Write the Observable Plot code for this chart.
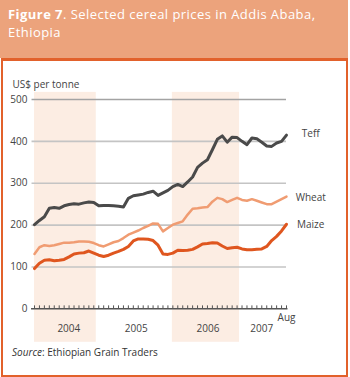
<!DOCTYPE html>
<html><head><meta charset="utf-8">
<script src="https://cdn.jsdelivr.net/npm/d3@7"></script>
<script src="https://cdn.jsdelivr.net/npm/@observablehq/plot@0.6"></script>
<style>
body{margin:0;width:350px;height:377px;position:relative;overflow:hidden;background:#fff;font-family:"Open Sans",sans-serif;}
#hdr{position:absolute;left:0;top:0;width:348px;height:58px;background:#eca37c;color:#fff;font-size:13px;line-height:18px;letter-spacing:0.45px;box-sizing:border-box;padding:5px 8px;}
#hdr b{font-weight:700;}
#panel{position:absolute;left:1px;top:58px;width:347px;height:319px;box-sizing:border-box;border:2px solid #e2612b;border-top-width:3px;}
#chart{position:absolute;left:0;top:62px;}
#src{position:absolute;left:12px;top:345px;font-size:10px;color:#333;}
</style>
</head><body>
<div id="hdr"><b>Figure 7</b>. Selected cereal prices in Addis Ababa,<br>Ethiopia</div>
<div id="panel"></div>
<div id="chart"></div>
<div id="src"><i>Source</i>: Ethiopian Grain Traders</div>
<script>
// Observations Jan 2004 – Aug 2007 (equally spaced on the chart)
const teff = [201,211,220,240,242,240,246,249,251,250,253,255,254,246,247,247,246,245,243,264,270,272,274,278,281,271,277,283,292,297,292,303,315,338,348,356,380,405,413,398,410,409,400,392,408,406,398,389,388,396,400,415];
const wheat = [131,147,152,150,152,155,158,158,159,161,161,160,157,152,149,154,159,162,169,177,182,187,193,198,204,203,185,193,201,205,209,225,239,240,242,243,256,265,262,255,260,265,260,258,262,258,254,250,250,256,262,268];
const maize = [96,109,116,117,115,116,118,124,131,133,134,138,133,128,125,128,133,137,142,149,162,167,167,166,163,152,131,130,133,140,139,140,142,148,155,156,158,157,150,144,146,147,143,141,141,142,143,149,163,173,186,202];
const seriesNames = ["Teff", "Wheat", "Maize"];
const seriesColors = ["#4a4a4a", "#f09c72", "#df561f"];
const seriesLabelY = [418, 266, 201];
const yearLabels = ["2004", "2005", "2006", "2007", "Aug"];
const yearLabelPos = [6.95, 20.6, 35.1, 46.0, 51.0];
const yearLabelY = [-47, -47, -47, -47, -21];
const shadedBands = [{start: 0, end: 12.5}, {start: 27.9, end: 41.5}];
const yTicks = [0, 100, 200, 300, 400, 500];

const idx = teff.map((_, i) => i);
const seriesData = [teff, wheat, maize];

const marks = [
  Plot.rect(shadedBands, {x1: "start", x2: "end", y1: () => -80, y2: () => 517, fill: "#fcede3"}),
  Plot.ruleY([100, 200, 300, 400], {x1: () => -0.5, x2: () => 51, stroke: "#c4c4c4", strokeWidth: 1.6}),
  Plot.ruleY([500], {x1: () => -0.5, x2: () => 51, stroke: "#a3a3a3", strokeWidth: 1.6}),
  Plot.ruleX(idx, {x: d => d, y1: () => 0, y2: () => 7, stroke: "#555", strokeWidth: 1}),
  Plot.ruleY([0], {x1: () => -0.6, x2: () => 51.3, stroke: "#555", strokeWidth: 1.5}),
  Plot.axisY({ticks: yTicks, tickSize: 0, tickPadding: 7, label: null, fill: "#444", fontSize: 10}),
  Plot.text(["US$ per tonne"], {frameAnchor: "top-left", dx: -22, dy: -15, textAnchor: "start", lineAnchor: "middle", fill: "#444", fontSize: 10, letterSpacing: 0.3}),
];
seriesData.forEach((vals, s) => {
  marks.push(Plot.lineY(vals, {x: (d, i) => i, y: d => d, stroke: seriesColors[s], strokeWidth: s === 1 ? 2.5 : 3, strokeLinejoin: "round"}));
});
marks.push(Plot.text(seriesNames, {x: () => 55.9, y: (d, i) => seriesLabelY[i], text: d => d, fill: "#444", fontSize: 10}));
marks.push(Plot.text(yearLabels, {x: (d, i) => yearLabelPos[i], y: (d, i) => yearLabelY[i], text: d => d, fill: "#444", fontSize: 10}));

const chart = Plot.plot({
  width: 350,
  height: 283,
  marginLeft: 34,
  marginRight: 64,
  marginTop: 37,
  marginBottom: 36.7,
  x: {domain: [0, 51], axis: null},
  y: {domain: [0, 500], axis: null},
  style: {background: "transparent", fontFamily: "Open Sans", fontSize: "10px", overflow: "visible"},
  marks
});
document.getElementById("chart").appendChild(chart);
</script>
</body></html>
